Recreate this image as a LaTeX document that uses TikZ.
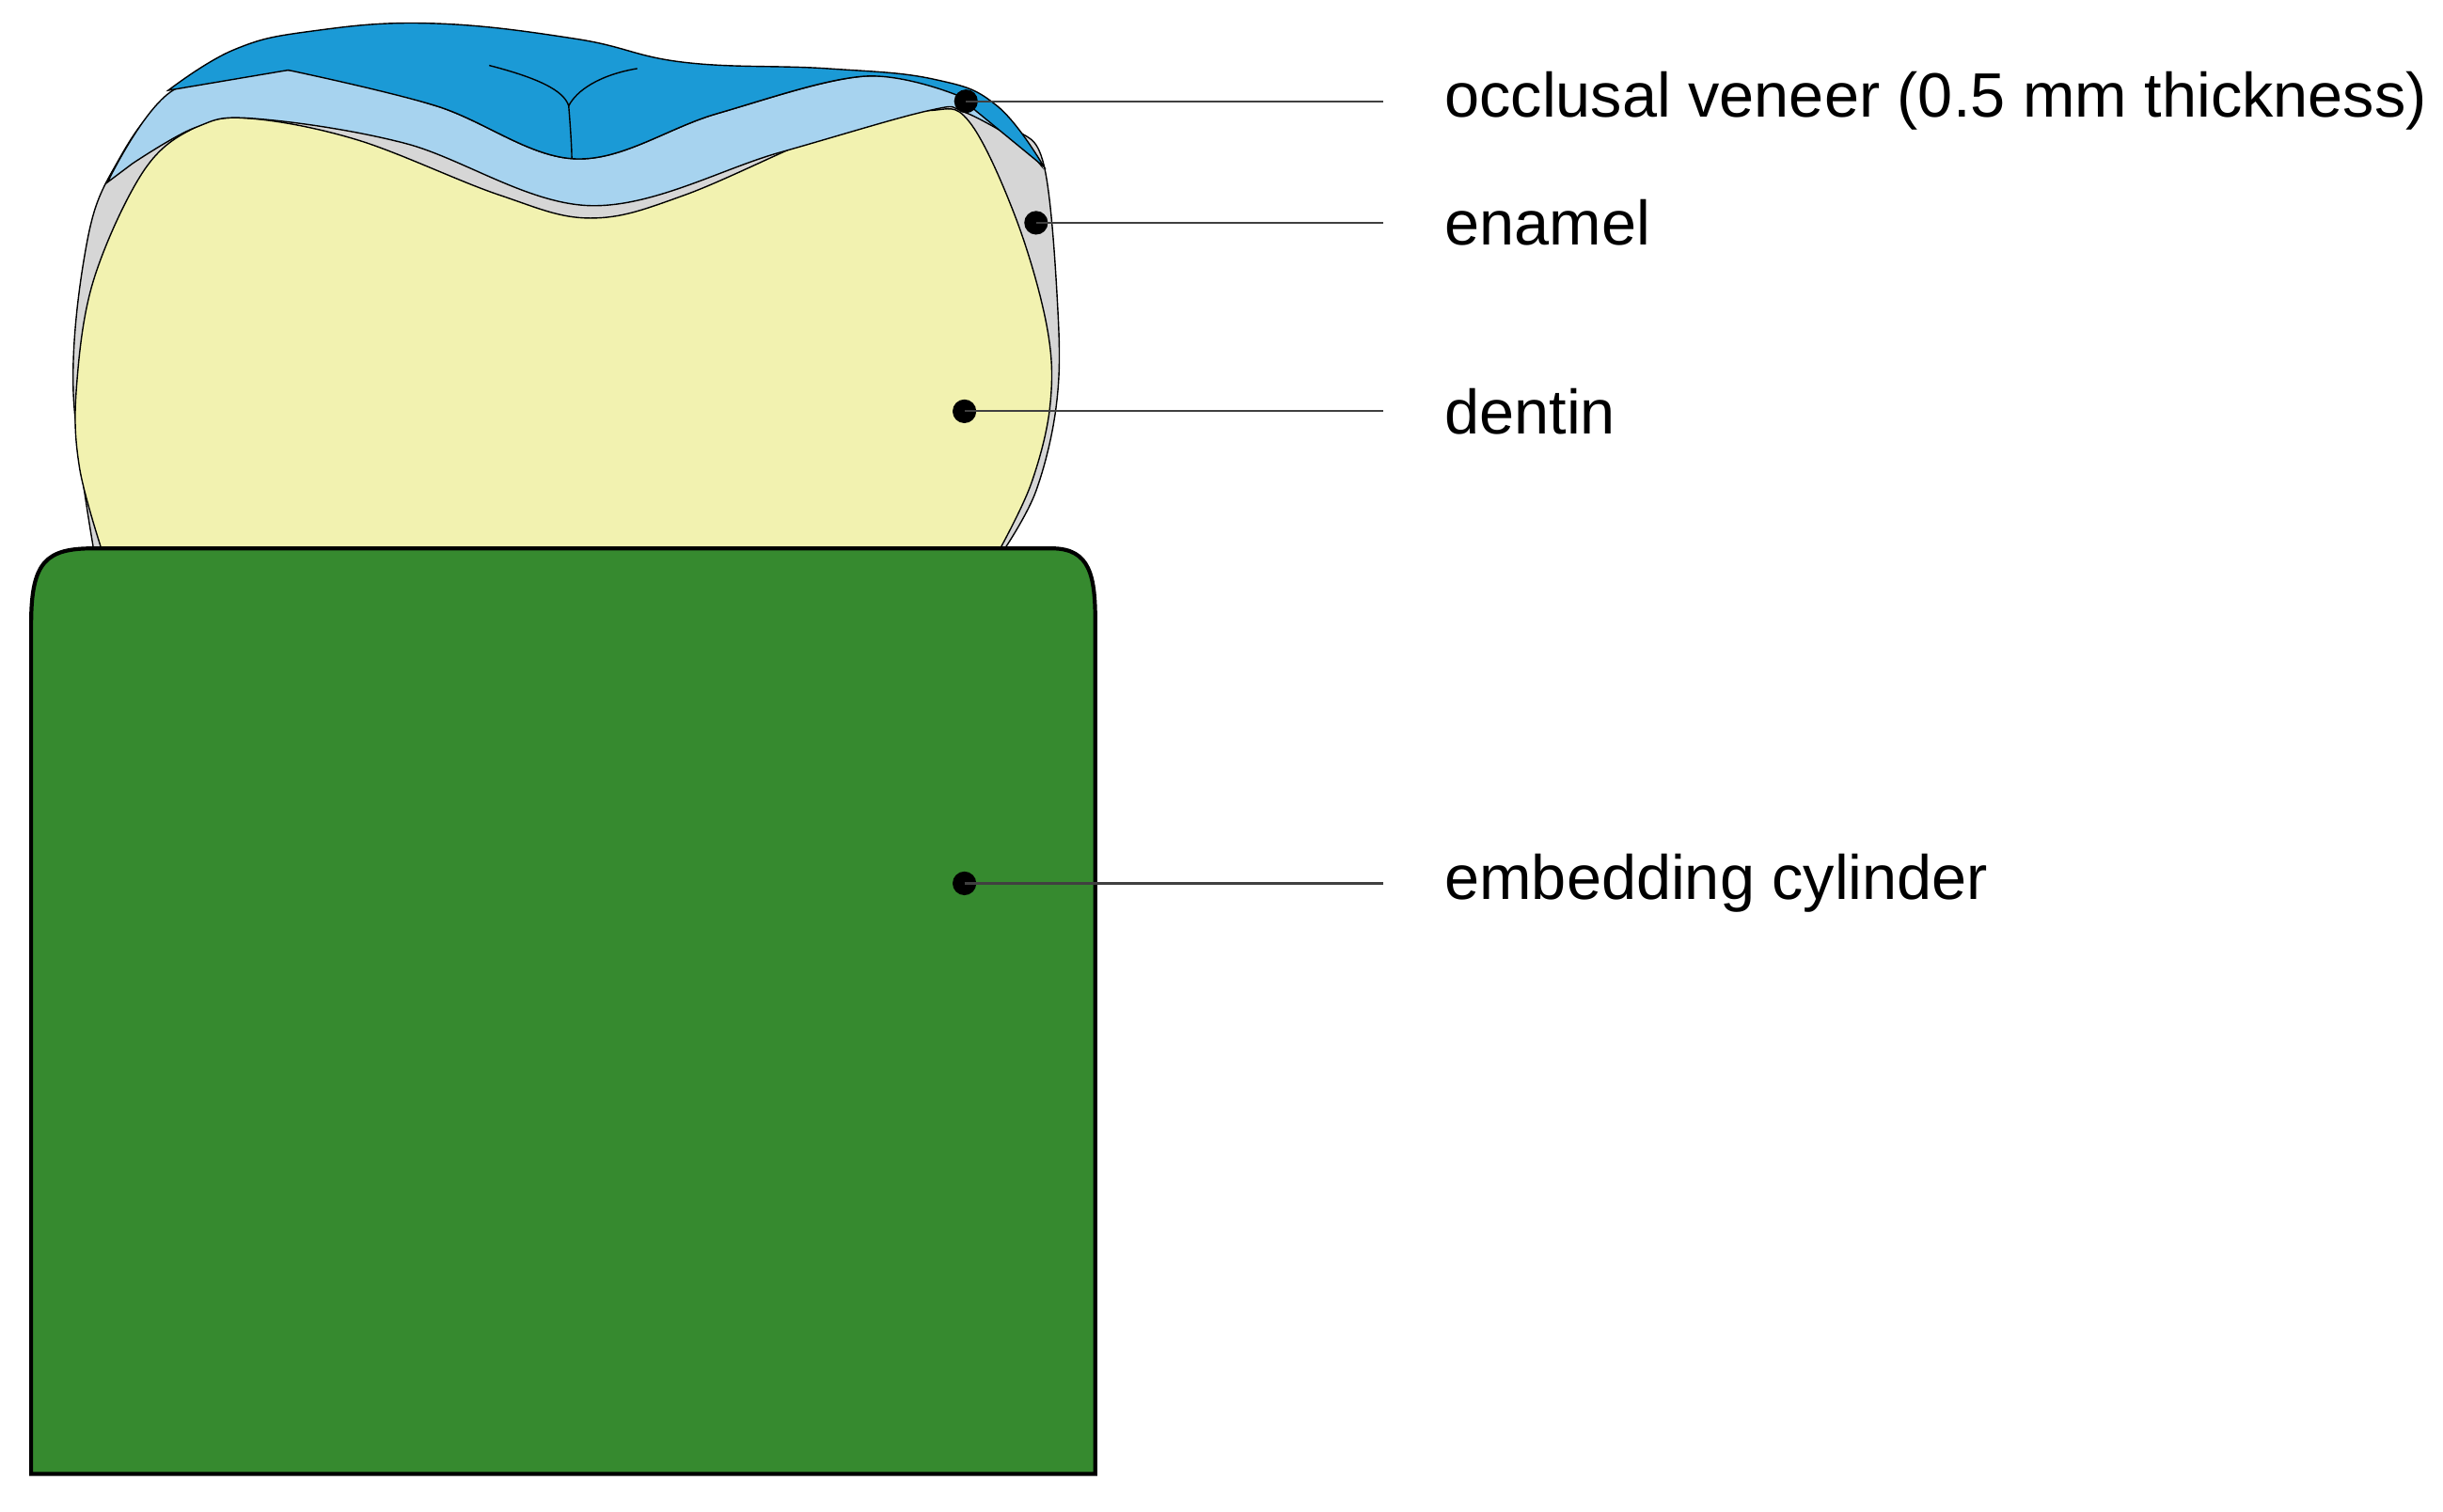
\documentclass[tikz,border=0pt]{standalone}
\usepackage{fontspec}
\setmainfont{Liberation Sans}
\begin{document}
\begin{tikzpicture}[x=0.025cm,y=-0.025cm,
  outl/.style={draw=black,line width=0.6pt},
  lead/.style={draw=black!75,line width=0.9pt},
  dot/.style={circle,fill=black,inner sep=0pt,minimum size=0.38cm},
  lab/.style={anchor=west,inner sep=0pt,font=\fontsize{28.6}{33}\selectfont}]
\useasboundingbox (0,0) rectangle (1568,970);
\definecolor{dentin}{HTML}{F2F2B0}
\definecolor{enamel}{HTML}{D6D6D6}
\definecolor{lblue}{HTML}{A7D3EF}
\definecolor{dblue}{HTML}{1B9AD6}
\definecolor{cyl}{HTML}{368A2F}
% enamel
\path[outl,fill=enamel] plot[smooth,tension=0.6] coordinates {(60,352)(47,250)(55,160)(72,110)(111,62)(185,50)(370,110)(554,55)(614,62)(650,82)(670,106)(679,200)(678,260)(665,315)(645,352)} -- cycle;
% dentin
\path[outl,fill=dentin] plot[smooth,tension=0.6] coordinates {(65,352)(51,300)(49,250)(60,180)(92,110)(125,82)(160,76)(230,90)(320,125)(379,140)(440,125)(540,82)(596,71)(622,78)(652,140)(672,210)(674,260)(662,310)(642,352)} -- cycle;
% light blue veneer layer
\path[outl,fill=lblue] plot[smooth,tension=0.6] coordinates {(69,117)(111,58)(185,45)(280,68)(370,102)(460,73)(554,49)(614,60)(650,80)(668,106)}
  -- plot[smooth,tension=0.6] coordinates {(656,92)(619,72)(596,71)(500,98)(379,132)(260,92)(162,76)(125,82)(85,105)} -- cycle;
% dark blue
\path[outl,fill=dblue] plot[smooth,tension=0.7] coordinates {(108,58)(150,32)(200,20)(277,15)(370,25)(439,40)(531,44)(600,51)(640,68)(670,107)}
  -- plot[smooth,tension=0.6] coordinates {(614,61)(554,49)(460,73)(370,102)(280,68)(185,45)} -- cycle;
% fissure
\draw[outl] (314,42) .. controls (345,50) and (362,58) .. (365,68);
\draw[outl] (409,44) .. controls (385,48) and (370,58) .. (365,68);
\draw[outl] (365,68) .. controls (366,80) and (367,95) .. (367,102);
% cylinder
\path[draw=black,line width=1.8pt,fill=cyl] (20,946) -- (20,400) .. controls (20,360) and (30,352) .. (60,352) -- (675,352) .. controls (700,352) and (703,370) .. (703,400) -- (703,946) -- cycle;
% labels
\node[dot] (d1) at (620,65) {};
\node[dot] (d2) at (665,143) {};
\node[dot] (d3) at (619,264) {};
\node[dot] (d4) at (619,567) {};
\coordinate (e1) at (888,65);
\coordinate (e2) at (888,143);
\coordinate (e3) at (888,264);
\coordinate (e4) at (888,567);
\draw[lead] (d1.center) -- (e1);
\draw[lead] (d2.center) -- (e2);
\draw[lead] (d3.center) -- (e3);
\draw[lead] (d4.center) -- (e4);
\node[lab] (t1) at (927,65) {occlusal veneer (0.5 mm thickness)};
\node[lab] (t2) at (927,143) {enamel};
\node[lab] (t3) at (927,264) {dentin};
\node[lab] (t4) at (927,567) {embedding cylinder};
\end{tikzpicture}
\end{document}
